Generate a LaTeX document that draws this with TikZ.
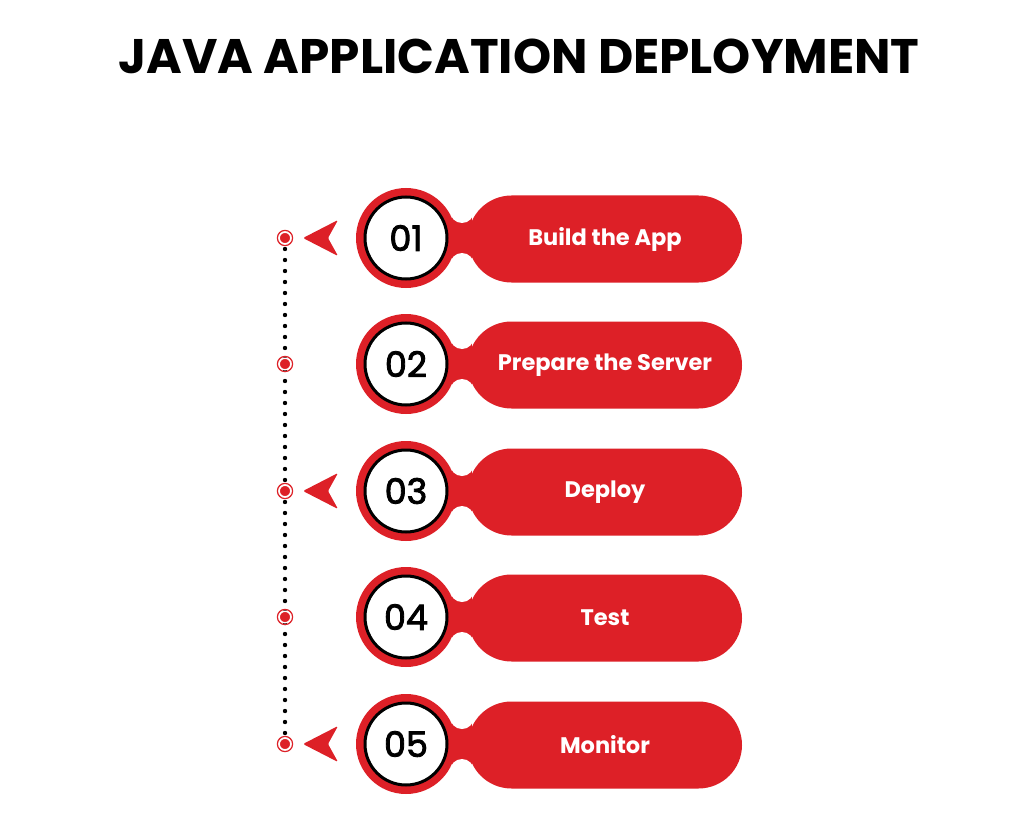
\documentclass[tikz,border=0pt]{standalone}
\usepackage{fontspec}
\setmainfont{Poppins}
\newfontfamily\numfont[FakeBold=2.5]{Poppins}
\definecolor{jred}{RGB}{221,32,39}
\tikzset{
  bigcirc/.style={circle, fill=jred, minimum size=100pt, inner sep=0pt},
  numcirc/.style={circle, fill=white, draw=black, line width=3pt, minimum size=82pt, inner sep=0pt, font=\numfont\fontsize{35}{40}\selectfont},
  pill/.style={rectangle, fill=jred, rounded corners=43.5pt, minimum width=274pt, minimum height=87pt, inner sep=0pt, text=white, font=\bfseries\fontsize{22.5}{26}\selectfont},
  tdot/.style={circle, fill=jred, draw=white, line width=1.3pt, minimum size=11.5pt, inner sep=0pt},
  dotline/.style={line width=4.4pt, line cap=round, dash pattern=on 0pt off 11pt},
  arrowhead/.style={fill=jred, rounded corners=1.5pt},
  titlefont/.style={font=\bfseries\fontsize{48.5}{58}\selectfont, text=black}
}
\begin{document}
\begin{tikzpicture}[x=1pt,y=-1pt]
\useasboundingbox (0,0) rectangle (1024,818);
\fill[white] (0,0) rectangle (1024,818);
\node[titlefont] (title) at (519,56) {JAVA APPLICATION DEPLOYMENT};
\foreach \i/\y in {1/238,2/364,3/491,4/617,5/744}{
  \coordinate (dc\i) at (285,\y);
}
\draw[dotline] (dc1) -- (dc5);
\foreach \i/\y/\t/\a in {1/238/Build the App/1,2/364/Prepare the Server/0,3/491/Deploy/1,4/617/Test/0,5/744/Monitor/1}{
  \node[tdot] (d\i) at (dc\i) {};
  \draw[jred, line width=1.2pt] (d\i.center) circle (7.6pt);
  \ifnum\a=1
    \fill[arrowhead] (303,\y) -- (338,\y-18) -- (328,\y) -- (338,\y+18) -- cycle;
  \fi
  \fill[jred] (452,\y-24) rectangle (472,\y+24);
  \fill[white] (462,\y-27) circle (12pt);
  \fill[white] (462,\y+27) circle (12pt);
  \node[bigcirc] (c\i) at (406,\y) {};
  \node[pill] (p\i) at (605,\y+1) {\t};
  \node[numcirc] (n\i) at (406,\y) {0\i};
}
\end{tikzpicture}
\end{document}
